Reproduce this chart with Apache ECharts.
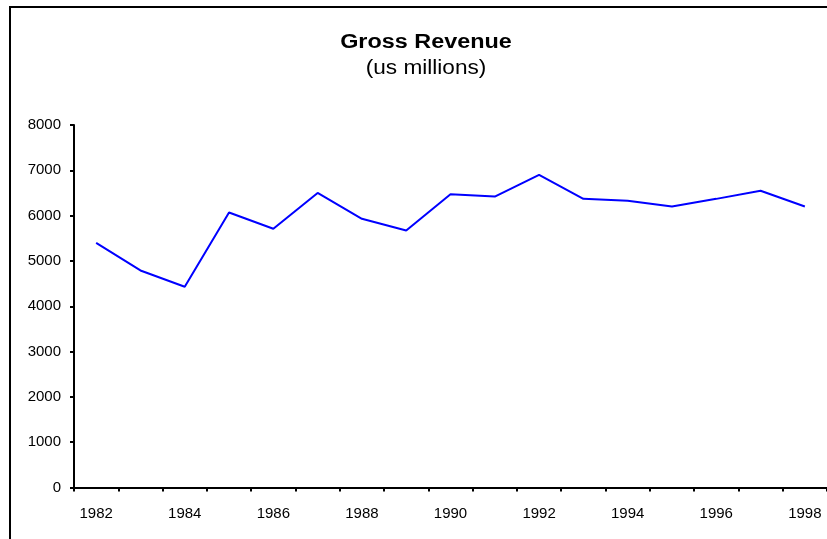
<!DOCTYPE html>
<html>
<head>
<meta charset="utf-8">
<script src="https://cdn.jsdelivr.net/npm/echarts@6/dist/echarts.min.js"></script>
<style>
html,body{margin:0;padding:0;background:#fff;}
#chart{width:827px;height:539px;}
</style>
</head>
<body>
<div id="chart"></div>
<script>
const years = ['1982','1983','1984','1985','1986','1987','1988','1989','1990','1991','1992','1993','1994','1995','1996','1997','1998'];
const revenue = [5400, 4790, 4430, 6070, 5710, 6500, 5930, 5670, 6470, 6420, 6900, 6370, 6330, 6200, 6370, 6550, 6200];
const yTicks = [0, 1000, 2000, 3000, 4000, 5000, 6000, 7000, 8000];
const titleText = 'Gross Revenue';
const subtitleText = '(us millions)';

const chart = echarts.init(document.getElementById('chart'), null, {renderer: 'canvas'});
chart.setOption({
  animation: false,
  backgroundColor: '#fff',
  graphic: [
    {type: 'line', shape: {x1: 10, y1: 7, x2: 840, y2: 7}, style: {stroke: '#000', lineWidth: 2}, silent: true, z: 100},
    {type: 'line', shape: {x1: 10, y1: 6, x2: 10, y2: 545}, style: {stroke: '#000', lineWidth: 2}, silent: true, z: 100},
    {type: 'text', x: 426, y: 42, scaleX: 1.17, scaleY: 1,
      style: {text: titleText, fill: '#000', font: 'bold 20px "Liberation Sans", Arial', textAlign: 'center', textVerticalAlign: 'middle'}, silent: true},
    {type: 'text', x: 426, y: 68.5, scaleX: 1.13, scaleY: 1,
      style: {text: subtitleText, fill: '#000', font: '20px "Liberation Sans", Arial', textAlign: 'center', textVerticalAlign: 'middle'}, silent: true}
  ],
  grid: {left: 74, top: 125, bottom: 51.5, right: -3, containLabel: false},
  xAxis: {
    type: 'category',
    data: years,
    boundaryGap: true,
    axisLine: {lineStyle: {color: '#000', width: 2}},
    axisTick: {show: true, interval: 0, length: 4, lineStyle: {color: '#000', width: 2}},
    axisLabel: {interval: 1, margin: 19, fontFamily: 'Liberation Sans, Arial', fontSize: 15, color: '#000'},
    splitLine: {show: false}
  },
  yAxis: {
    type: 'value',
    min: yTicks[0],
    max: yTicks[yTicks.length - 1],
    interval: 1000,
    axisLine: {show: true, lineStyle: {color: '#000', width: 2}},
    axisTick: {show: true, length: 4, lineStyle: {color: '#000', width: 2}},
    axisLabel: {margin: 13, fontFamily: 'Liberation Sans, Arial', fontSize: 15, color: '#000', formatter: function (v) { return String(v); }},
    splitLine: {show: false}
  },
  series: [{
    type: 'line',
    data: revenue,
    showSymbol: false,
    symbol: 'none',
    lineStyle: {color: '#0000FF', width: 2},
    itemStyle: {color: '#0000FF'}
  }]
});
</script>
</body>
</html>
